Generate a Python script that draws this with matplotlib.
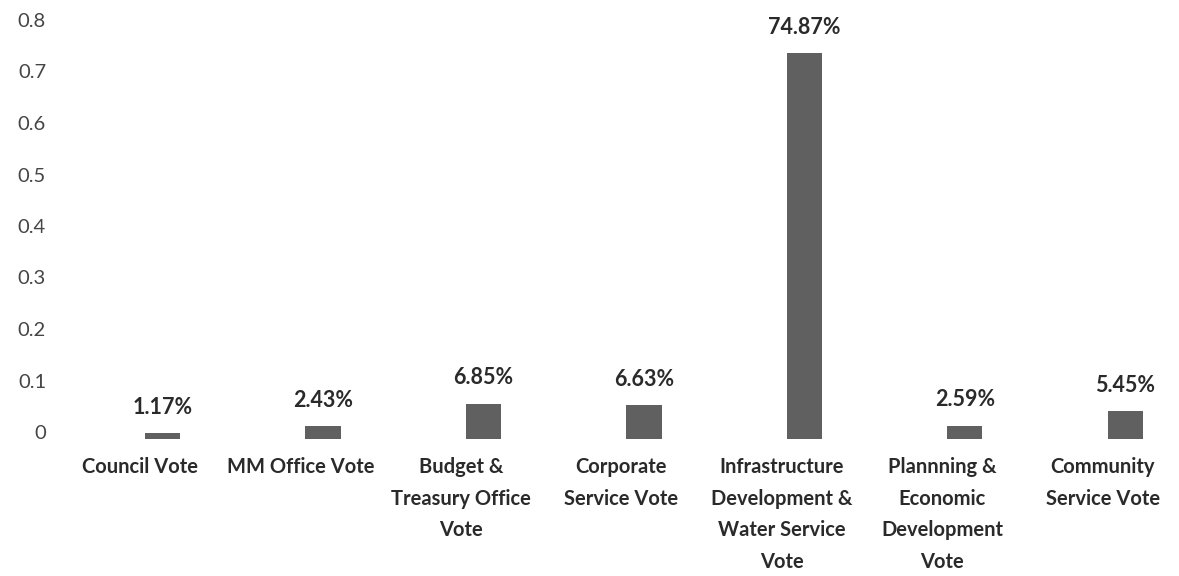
import matplotlib
matplotlib.use("Agg")
import matplotlib.pyplot as plt
import matplotlib.transforms as mtransforms
import numpy as np

categories = ["Council Vote", "MM Office Vote", "Budget &\nTreasury Office\nVote",
              "Corporate\nService Vote", "Infrastructure\nDevelopment &\nWater Service\nVote",
              "Plannning &\nEconomic\nDevelopment\nVote", "Community\nService Vote"]
values = [0.0117, 0.0243, 0.0685, 0.0663, 0.7487, 0.0259, 0.0545]
value_labels = ["1.17%", "2.43%", "6.85%", "6.63%", "74.87%", "2.59%", "5.45%"]
yticks = [0, 0.1, 0.2, 0.3, 0.4, 0.5, 0.6, 0.7, 0.8]
ytick_labels = ["0", "0.1", "0.2", "0.3", "0.4", "0.5", "0.6", "0.7", "0.8"]

fig = plt.figure(figsize=(11.79, 5.76), dpi=100)
ax = fig.add_axes([60/1179, 137/576, 1123/1179, 412/576])

x = np.arange(len(categories))
bar_x = x + 0.14
ax.bar(bar_x, values, width=0.22, color="#606060")

for bx, v, lab in zip(bar_x, values, value_labels):
    ax.annotate(lab, (bx, v), xytext=(0, 11), textcoords="offset points",
                ha="center", va="bottom", fontsize=15.5, fontweight="bold",
                family="Lato", color="#2a2a2a")

ax.set_xlim(-0.5, 6.5)
ax.set_ylim(0, 0.8)
ax.set_xticks(x)
ax.set_xticklabels(categories, fontsize=14.5, fontweight="bold", family="Lato",
                   color="#2a2a2a", linespacing=1.72)
ax.set_yticks(yticks)
ax.set_yticklabels(ytick_labels, fontsize=14.5, family="Lato", color="#454545")
ax.tick_params(axis="x", length=0, pad=13)
ax.tick_params(axis="y", length=0, pad=10)

offset = mtransforms.ScaledTranslation(0, 7/100, fig.dpi_scale_trans)
for lbl in ax.get_yticklabels():
    lbl.set_transform(lbl.get_transform() + offset)

for s in ax.spines.values():
    s.set_visible(False)

fig.savefig("out.png", dpi=100)
